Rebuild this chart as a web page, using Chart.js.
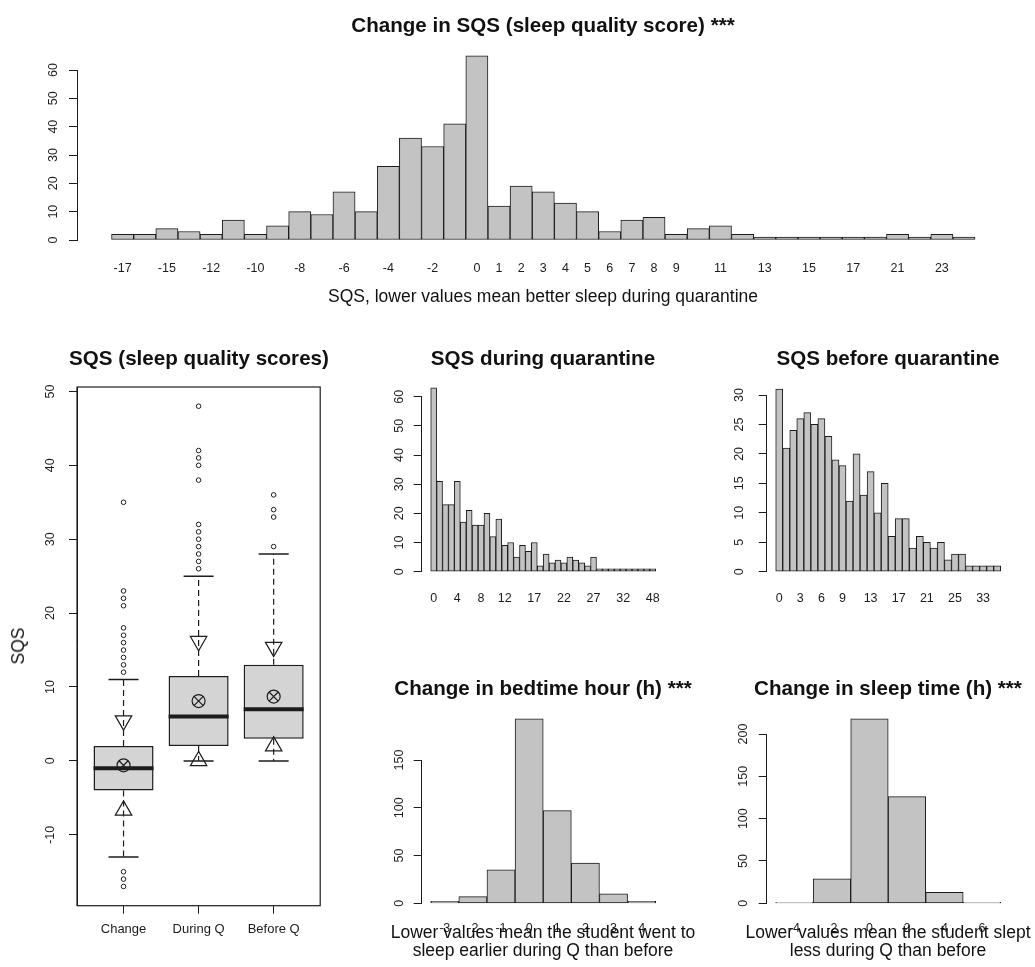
<!DOCTYPE html>
<html>
<head>
<meta charset="utf-8">
<title>SQS change</title>
<script src="https://cdn.jsdelivr.net/npm/chart.js@4.4.1/dist/chart.umd.min.js"></script>
<style>
  body { margin: 0; background: #fff; font-family: "Liberation Sans", Arial, sans-serif; color: #111; }
  #page { position: relative; width: 1035px; height: 967px; overflow: hidden; }
  .pane { position: absolute; }
  .t { position: absolute; white-space: nowrap; transform: translate(-50%, -50%); font-size: 17.5px; line-height: 18px; }
  .main { font-weight: bold; font-size: 20.6px; line-height: 21px; }
  .yl { transform: translate(-50%, -50%) rotate(-90deg); }
</style>
</head>
<body>
<div id="page">
  <div class="pane" style="left:0;top:0;width:1035px;height:300px"><canvas id="top"></canvas></div>
  <div class="pane" id="boxPane" style="left:0;top:320px;width:340px;height:647px"><canvas id="box"></canvas></div>
  <div class="pane" style="left:340px;top:320px;width:350px;height:300px"><canvas id="during"></canvas></div>
  <div class="pane" style="left:690px;top:320px;width:345px;height:300px"><canvas id="before"></canvas></div>
  <div class="pane" style="left:340px;top:660px;width:350px;height:307px"><canvas id="bed"></canvas></div>
  <div class="pane" style="left:690px;top:660px;width:345px;height:307px"><canvas id="sleep"></canvas></div>

  <div class="t main" style="left:543px;top:24px">Change in SQS (sleep quality score) ***</div>
  <div class="t" style="left:543px;top:296px">SQS, lower values mean better sleep during quarantine</div>

  <div class="t main" style="left:199px;top:357px">SQS (sleep quality scores)</div>
  <div class="t yl" style="left:18px;top:646px">SQS</div>

  <div class="t main" style="left:543px;top:357px">SQS during quarantine</div>
  <div class="t main" style="left:888px;top:357px">SQS before quarantine</div>

  <div class="t main" style="left:543px;top:687px">Change in bedtime hour (h) ***</div>
  <div class="t" style="left:543px;top:932px">Lower values mean the student went to</div>
  <div class="t" style="left:543px;top:950px">sleep earlier during Q than before</div>

  <div class="t main" style="left:888px;top:687px">Change in sleep time (h) ***</div>
  <div class="t" style="left:888px;top:932px">Lower values mean the student slept</div>
  <div class="t" style="left:888px;top:950px">less during Q than before</div>
</div>

<script>
// change in SQS (one bar per observed value)
const changeVals = [-17, -16, -15, -14, -12, -11, -10, -9, -8, -7, -6, -5, -4, -3, -2, -1, 0, 1, 2, 3, 4, 5, 6, 7, 8, 9, 10, 11, 12, 13, 14, 15, 16, 17, 18, 21, 22, 23, 35];
const changeCounts = [2, 2, 4, 3, 2, 7, 2, 5, 10, 9, 17, 10, 26, 36, 33, 41, 65, 12, 19, 17, 13, 10, 3, 7, 8, 2, 4, 5, 2, 1, 1, 1, 1, 1, 1, 2, 1, 2, 1];
const changeTicks = [-17, -15, -12, -10, -8, -6, -4, -2, 0, 1, 2, 3, 4, 5, 6, 7, 8, 9, 11, 13, 15, 17, 21, 23];

// SQS during quarantine
const duringVals = [0, 1, 2, 3, 4, 5, 6, 7, 8, 9, 10, 11, 12, 13, 14, 15, 16, 17, 18, 19, 20, 21, 22, 23, 24, 25, 26, 27, 28, 29, 30, 31, 32, 38, 40, 41, 42, 48];
const duringCounts = [63, 31, 23, 23, 31, 17, 21, 16, 16, 20, 12, 18, 9, 10, 5, 9, 7, 10, 2, 6, 3, 4, 3, 5, 4, 3, 2, 5, 1, 1, 1, 1, 1, 1, 1, 1, 1, 1];
const duringTicks = [0, 4, 8, 12, 17, 22, 27, 32, 48];

// SQS before quarantine
const beforeVals = [0, 1, 2, 3, 4, 5, 6, 7, 8, 9, 10, 11, 12, 13, 14, 15, 16, 17, 18, 19, 20, 21, 22, 23, 24, 25, 26, 28, 29, 33, 34, 36];
const beforeCounts = [31, 21, 24, 26, 27, 25, 26, 23, 19, 18, 12, 20, 13, 17, 10, 15, 6, 9, 9, 4, 6, 5, 4, 5, 2, 3, 3, 1, 1, 1, 1, 1];
const beforeTicks = [0, 3, 6, 9, 13, 17, 21, 25, 33];

// change in bedtime hour
const bedVals = [-3, -2, -1, 0, 1, 2, 3, 4];
const bedCounts = [2, 7, 35, 193, 97, 42, 10, 2];

// change in sleep time, 2h bins
const sleepMids = [-4, -2, 0, 2, 4, 6];
const sleepCounts = [1, 29, 218, 126, 13, 1];

// boxplot stats
const groups = ['Change', 'During Q', 'Before Q'];
const q1 = [-4, 2, 3];
const med = [-1, 6, 7];
const q3 = [2, 11.5, 13];
const whiskLo = [-13, 0, 0];
const whiskHi = [11, 25, 28];
const means = [-0.6, 8.1, 8.7];
const sdLo = [-6.7, 0, 2];
const sdHi = [5.45, 16.2, 15.4];
const outliers = [
  [35, 23, 22, 21, 18, 17, 16, 15, 14, 13, 12, -15, -16, -17],
  [48, 42, 41, 40, 38, 32, 31, 30, 29, 28, 27, 26],
  [36, 34, 33, 29]
];

const ink = '#1c1c1c';
const barFill = '#c3c3c3';
const boxFill = '#d4d4d4';

Chart.defaults.font.family = '"Liberation Sans", Arial, sans-serif';
Chart.defaults.font.size = 12.5;
Chart.defaults.color = ink;
Chart.defaults.animation = false;
Chart.defaults.events = [];
Chart.defaults.maintainAspectRatio = false;
Chart.defaults.plugins.legend.display = false;
Chart.defaults.plugins.tooltip.enabled = false;

function yAxis(min, max, step, width, pad) {
  return {
    min: min, max: max,
    ticks: { stepSize: step, includeBounds: false, autoSkip: false, minRotation: 90, maxRotation: 90, crossAlign: 'center', padding: pad },
    grid: { drawOnChartArea: false, tickLength: 8, color: ink },
    border: { color: ink },
    afterFit: s => { s.width = width; }
  };
}

// bars sit on index positions, ticks show only the labels that fit
function xIndexAxis(vals, shown, height, pad) {
  const n = vals.length;
  return {
    type: 'linear', offset: false,
    min: -0.5 - n * 0.04, max: n - 0.5 + n * 0.04,
    grid: { display: false, offset: false }, border: { display: false },
    ticks: { autoSkip: false, maxRotation: 0, padding: pad, callback: v => vals[v] },
    afterBuildTicks: s => { s.ticks = shown.map(t => ({ value: vals.indexOf(t) })); },
    afterFit: s => { s.height = height; }
  };
}

function xNumAxis(min, max, ticks, height, pad) {
  return {
    type: 'linear', offset: false, min: min, max: max,
    grid: { display: false, offset: false }, border: { display: false },
    ticks: { autoSkip: false, maxRotation: 0, padding: pad },
    afterBuildTicks: s => { s.ticks = ticks.map(t => ({ value: t })); },
    afterFit: s => { s.height = height; }
  };
}

function hist(id, xs, counts, x, y, padding) {
  new Chart(document.getElementById(id), {
    type: 'bar',
    data: {
      datasets: [{
        data: counts.map((c, i) => ({ x: xs[i], y: c })),
        backgroundColor: barFill, borderColor: ink, borderWidth: 1, borderSkipped: false,
        barPercentage: 1, categoryPercentage: 1, clip: false
      }]
    },
    options: { layout: { padding: padding }, scales: { x: x, y: y } }
  });
}

const idx = a => a.map((v, i) => i);

hist('top', idx(changeVals), changeCounts,
  xIndexAxis(changeVals, changeTicks, 60, 13),
  yAxis(0, 60, 10, 77, 9),
  { top: 70, right: 25.4 });

hist('during', idx(duringVals), duringCounts,
  xIndexAxis(duringVals, duringTicks, 48.3, 11),
  yAxis(0, 60, 10, 81.7, 7.5),
  { top: 76.7, right: 25.3 });

hist('before', idx(beforeVals), beforeCounts,
  xIndexAxis(beforeVals, beforeTicks, 48.3, 11),
  yAxis(0, 30, 5, 76.7, 12),
  { top: 75, right: 25.3 });

hist('bed', bedVals, bedCounts,
  xNumAxis(-3.82, 4.82, bedVals, 63.7, 10),
  yAxis(0, 150, 50, 81.7, 4),
  { top: 100, right: 25.3 });

hist('sleep', sleepMids, sleepCounts,
  xNumAxis(-5.48, 7.48, sleepMids, 63.7, 10),
  yAxis(0, 200, 50, 76.7, 5),
  { top: 74, right: 25.3 });

// boxplot
const frame = {
  id: 'frame',
  afterDatasetsDraw(chart) {
    const a = chart.chartArea, c = chart.ctx;
    c.save();
    c.strokeStyle = ink;
    c.lineWidth = 1.2;
    c.strokeRect(a.left, a.top, a.right - a.left, a.bottom - a.top);
    c.restore();
  }
};

function whisker(x, from, to) {
  return { type: 'line', data: [{ x: x, y: from }, { x: x, y: to }], borderColor: ink, borderWidth: 1.2, borderDash: [6, 4], pointRadius: 0, fill: false };
}

function pts(data, style, r, w, extra) {
  return Object.assign({
    type: 'scatter', data: data, pointStyle: style, pointRadius: r,
    pointBorderWidth: w, pointBorderColor: ink, pointBackgroundColor: 'rgba(0,0,0,0)'
  }, extra || {});
}

const at = vals => groups.map((g, i) => ({ x: i + 1, y: vals[i] }));

const boxSets = [{
  type: 'bar', order: 1,
  data: groups.map((g, i) => ({ x: i + 1, y: [q1[i], q3[i]] })),
  backgroundColor: boxFill, borderColor: ink, borderWidth: 1.5, borderSkipped: false,
  barPercentage: 0.8, categoryPercentage: 1
}];
groups.forEach((g, i) => {
  boxSets.push(whisker(i + 1, q3[i], whiskHi[i]));
  boxSets.push(whisker(i + 1, q1[i], whiskLo[i]));
});
boxSets.push(pts(at(whiskHi).concat(at(whiskLo)), 'line', 15, 1.5));
boxSets.push(pts(at(med), 'line', 30, 4));
boxSets.push(pts(at(means), 'circle', 6.5, 1.2));
boxSets.push(pts(at(means), 'crossRot', 6.5, 1.2));
boxSets.push(pts(at(sdHi), 'triangle', 9.5, 1.2, { pointRotation: 180 }));
boxSets.push(pts(at(sdLo), 'triangle', 9.5, 1.2));
boxSets.push(pts(groups.flatMap((g, i) => outliers[i].map(v => ({ x: i + 1, y: v }))), 'circle', 2.3, 1));

const boxChart = new Chart(document.getElementById('box'), {
  type: 'bar',
  data: { datasets: boxSets },
  options: {
    layout: { padding: { top: 67, right: 19.8 } },
    scales: {
      x: {
        type: 'linear', offset: false, min: 0.38, max: 3.62,
        grid: { drawOnChartArea: false, offset: false, tickLength: 8, color: ink },
        border: { display: false },
        ticks: { autoSkip: false, maxRotation: 0, padding: 8, font: { size: 13 }, callback: v => groups[v - 1] },
        afterBuildTicks: s => { s.ticks = groups.map((g, i) => ({ value: i + 1 })); },
        afterFit: s => { s.height = 61.3; }
      },
      y: yAxis(-19.6, 50.6, 10, 77, 9)
    }
  },
  plugins: [frame]
});

// chart.js reserves room on the right for the last tick label, so widen the pane to get the frame back to x=320
const boxPane = document.getElementById('boxPane');
boxPane.style.width = (340 + 320.2 - boxChart.chartArea.right) + 'px';
boxChart.resize();
</script>
</body>
</html>
